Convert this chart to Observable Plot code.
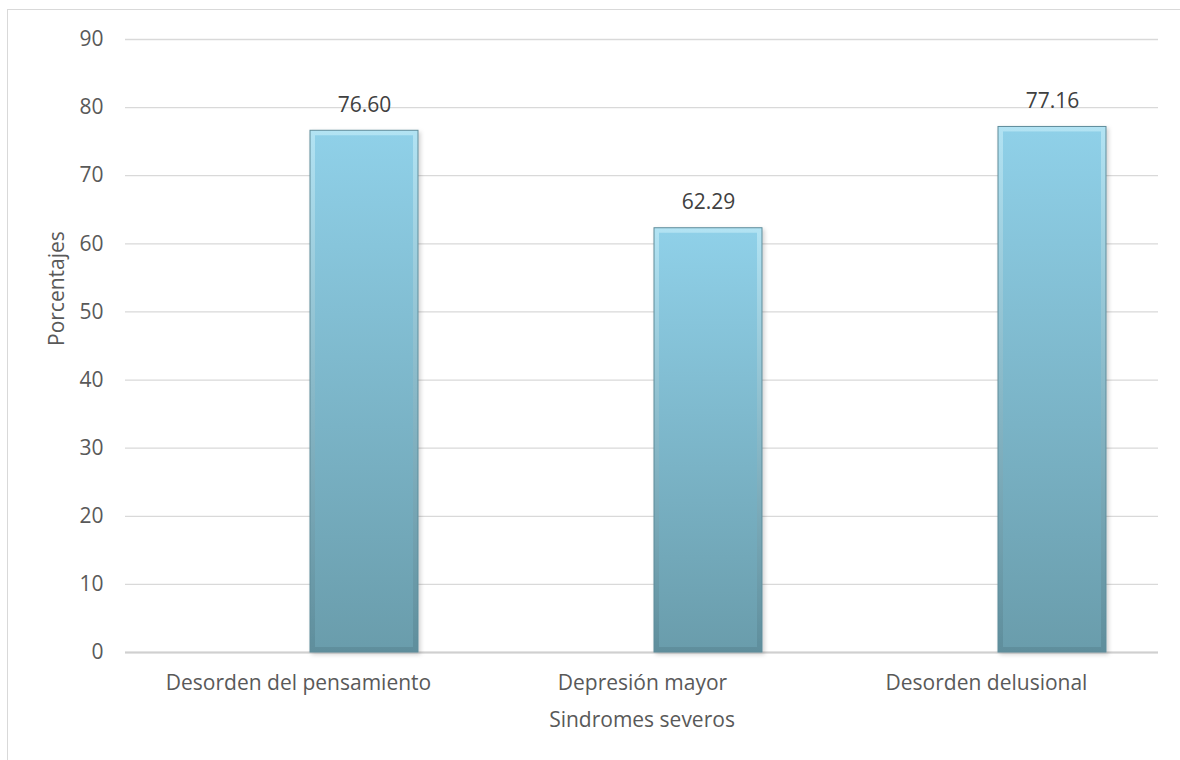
<!DOCTYPE html>
<html>
<head>
<meta charset="utf-8">
<script src="https://cdn.jsdelivr.net/npm/d3@7"></script>
<script src="https://cdn.jsdelivr.net/npm/@observablehq/plot@0.6"></script>
<style>
  html, body { margin: 0; padding: 0; background: #fff; overflow: hidden; }
  #frame { position: absolute; left: 7px; top: 9px; width: 1300px; height: 900px; border: 1.5px solid #d9d9d9; }
  #chart { position: absolute; left: 0; top: 0; }
  svg { font-family: "Open Sans", "DejaVu Sans", sans-serif; }
</style>
</head>
<body>
<div id="frame"></div>
<div id="chart"></div>
<script>
const categories = ["Desorden del pensamiento", "Depresión mayor", "Desorden delusional"];
const values = [76.60, 62.29, 77.16];
const yTicks = [0, 10, 20, 30, 40, 50, 60, 70, 80, 90];
const xTitle = "Sindromes severos";
const yTitle = "Porcentajes";

const data = categories.map((c, i) => ({category: c, value: values[i]}));

const chart = Plot.plot({
  width: 1180,
  height: 760,
  marginTop: 39,
  marginBottom: 108,
  marginLeft: 125,
  marginRight: 22,
  style: {fontSize: "20px", color: "#595959", background: "transparent"},
  x: {domain: categories, padding: 0, label: null},
  y: {domain: [0, 90], label: null},
  marks: [
    Plot.gridY(yTicks, {stroke: "#d9d9d9", strokeOpacity: 1, strokeWidth: 1.3}),
    Plot.axisY(yTicks, {tickSize: 0, tickPadding: 22, fontSize: 21, fill: "#595959", tickFormat: d => String(d)}),
    Plot.axisX({tickSize: 0, tickPadding: 23, fontSize: 21, fill: "#595959"}),
    Plot.ruleY([0], {stroke: "#d0d0d0", strokeWidth: 2}),
    Plot.barY(data, {
      x: "category", y: "value",
      insetLeft: 184, insetRight: 52,
      fill: "url(#barGrad)", stroke: "#5e8c9a", strokeWidth: 1
    }),
    Plot.barY(data, {
      x: "category", y: "value",
      insetLeft: 189, insetRight: 57, insetTop: 5, insetBottom: 5,
      fill: "url(#barGradInner)", stroke: "none"
    }),
    Plot.text(data, {
      x: "category", y: "value", text: d => d.value.toFixed(2),
      dx: 66, dy: -19, fontSize: 21, fill: "#404040", lineAnchor: "bottom"
    }),
    Plot.text([xTitle], {frameAnchor: "bottom", dy: 68, fontSize: 21, fill: "#595959", lineAnchor: "middle"}),
    Plot.text([yTitle], {frameAnchor: "left", dx: -68, rotate: -90, fontSize: 21, fill: "#595959", lineAnchor: "middle"})
  ]
});

const svgNS = "http://www.w3.org/2000/svg";
const defs = document.createElementNS(svgNS, "defs");
defs.innerHTML = `
  <linearGradient id="barGrad" x1="0" y1="0" x2="0" y2="1">
    <stop offset="0" stop-color="#b2e3f3"/>
    <stop offset="1" stop-color="#5f8e9c"/>
  </linearGradient>
  <linearGradient id="barGradInner" x1="0" y1="0" x2="0" y2="1">
    <stop offset="0" stop-color="#8fd0e8"/>
    <stop offset="1" stop-color="#6a9dac"/>
  </linearGradient>
  <filter id="shadow" x="-10%" y="-10%" width="130%" height="130%">
    <feDropShadow dx="2" dy="2" stdDeviation="2" flood-color="#000" flood-opacity="0.18"/>
  </filter>`;
chart.insertBefore(defs, chart.firstChild);
const barGroups = chart.querySelectorAll("g[aria-label='bar']");
if (barGroups.length) barGroups[0].setAttribute("filter", "url(#shadow)");
document.getElementById("chart").appendChild(chart);
</script>
</body>
</html>
